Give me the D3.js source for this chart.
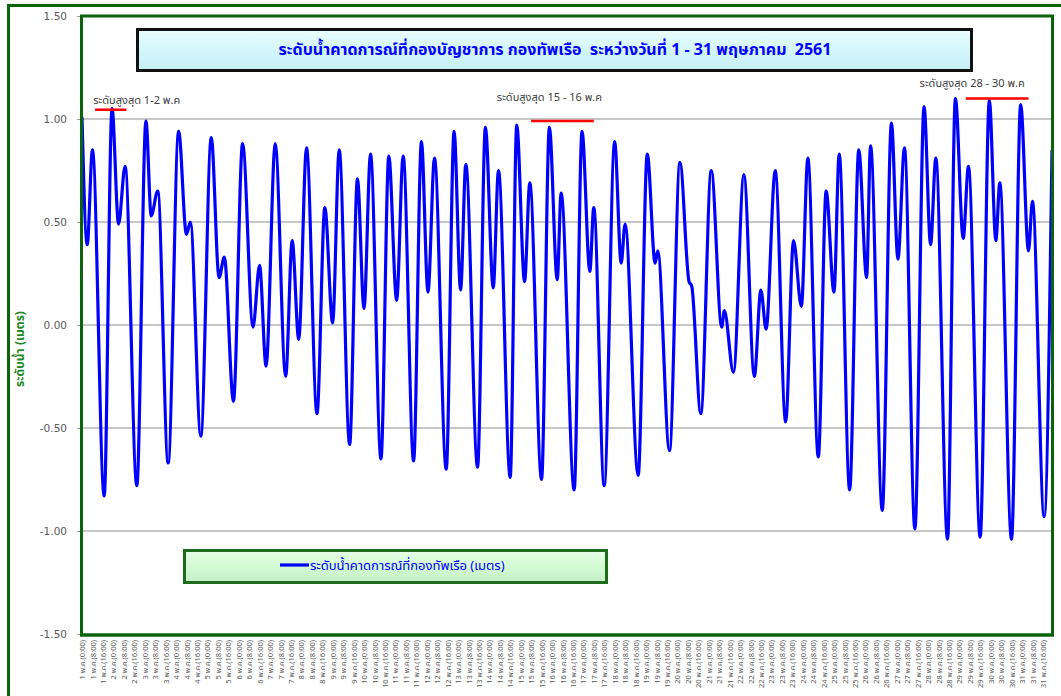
<!DOCTYPE html>
<html>
<head>
<meta charset="utf-8">
<script src="https://cdn.jsdelivr.net/npm/d3@7"></script>
<style>
  body { margin: 0; background: #fff; }
  text { font-family: Tahoma, "Noto Sans Thai", "DejaVu Sans", sans-serif; }
</style>
</head>
<body>
<div id="chart"></div>
<script>
// high / low water turning points, hours counted from 1 May 0:00
var tideHour = [0, 4, 8, 17, 23, 28, 33, 42, 49, 53, 58, 66, 74, 80, 83, 91, 99, 105, 109, 116,
  123, 131, 136, 141, 148, 156, 161, 166, 172, 180, 186, 192, 197, 205, 211, 216, 221,
  229, 235, 241, 246, 254, 260, 265, 270, 279, 285, 290, 294, 303, 309, 315, 319, 328,
  333, 339, 343, 352, 358, 364, 367, 377, 383, 389, 392, 400, 408, 413, 416, 426, 433,
  439, 441, 450, 458, 465, 467, 474, 482, 490, 492, 499, 507, 515, 520, 524, 531, 539,
  545, 551, 556, 564, 570, 576, 580, 588, 595, 601, 604, 613, 620, 625, 630, 638, 645,
  650, 654, 663, 669, 675, 679, 688, 695, 700, 703, 712, 719, 725, 728, 737, 743];
var tideLevel = [1.01, 0.39, 0.85, -0.83, 1.05, 0.49, 0.77, -0.78, 0.99, 0.53, 0.65, -0.67, 0.94, 0.44, 0.50, -0.54, 0.91, 0.23, 0.33, -0.37,
  0.88, -0.01, 0.29, -0.20, 0.88, -0.25, 0.41, -0.07, 0.86, -0.43, 0.57, 0.01, 0.85, -0.58, 0.71, 0.08, 0.83,
  -0.65, 0.82, 0.12, 0.82, -0.66, 0.89, 0.16, 0.81, -0.70, 0.94, 0.17, 0.78, -0.69, 0.96, 0.18, 0.75, -0.74,
  0.97, 0.21, 0.69, -0.75, 0.96, 0.22, 0.64, -0.80, 0.94, 0.26, 0.57, -0.78, 0.89, 0.30, 0.49, -0.73, 0.83,
  0.30, 0.36, -0.61, 0.79, 0.21, 0.19, -0.43, 0.75, -0.01, 0.07, -0.23, 0.73, -0.25, 0.17, -0.02, 0.75, -0.47,
  0.41, 0.09, 0.81, -0.64, 0.65, 0.16, 0.83, -0.80, 0.85, 0.23, 0.87, -0.90, 0.98, 0.32, 0.86, -0.99, 1.06,
  0.39, 0.81, -1.04, 1.10, 0.42, 0.77, -1.03, 1.09, 0.41, 0.69, -1.04, 1.07, 0.36, 0.60, -0.93, 0.85];

var days = d3.range(1, 32);
var labelTimes = ["0:00", "8:00", "16:00"];
var monthAbbr = "พ.ค.";
var yTicks = [-1.5, -1.0, -0.5, 0, 0.5, 1.0, 1.5];

var titleText = "ระดับน้ำคาดการณ์ที่กองบัญชาการ กองทัพเรือ  ระหว่างวันที่ 1 - 31 พฤษภาคม  2561";
var legendText = "ระดับน้ำคาดการณ์ที่กองทัพเรือ (เมตร)";
var yTitle = "ระดับน้ำ (เมตร)";

// highest-water notes: label, hour span, level of the red marker
var noteLabels = ["ระดับสูงสุด 1-2 พ.ค", "ระดับสูงสุด 15 - 16 พ.ค", "ระดับสูงสุด 28 - 30 พ.ค"];
var noteFrom = [10, 344, 677];
var noteTo = [34, 392, 725];
var noteLevel = [1.045, 0.99, 1.10];

var W = 1061, H = 696;
var plot = {left: 82, right: 1052, top: 16, bottom: 634};

var svg = d3.select("#chart").append("svg")
    .attr("width", W)
    .attr("height", H);

svg.append("rect").attr("width", W).attr("height", H).attr("fill", "#fff");

// outer chart frame (runs off the right / bottom edge)
svg.append("rect")
    .attr("x", 8.5).attr("y", 5.5)
    .attr("width", 1100).attr("height", 800)
    .attr("fill", "none")
    .attr("stroke", "#0b640b")
    .attr("stroke-width", 3);

var x = d3.scaleLinear().domain([0, 743]).range([plot.left, plot.right]);
var y = d3.scaleLinear().domain([-1.5, 1.5]).range([plot.bottom, plot.top]);

// gridlines
svg.append("g")
  .selectAll("line")
  .data(yTicks.filter(function(d) { return Math.abs(d) < 1.5; }))
  .enter()
  .append("line")
    .attr("x1", plot.left).attr("x2", plot.right)
    .attr("y1", function(d) { return y(d); })
    .attr("y2", function(d) { return y(d); })
    .attr("stroke", "#b4b4b4")
    .attr("stroke-width", 1.3);

// y axis
var yAxis = svg.append("g")
    .attr("transform", "translate(" + (plot.left - 1) + ",0)")
    .call(d3.axisLeft(y).tickValues(yTicks)
      .tickFormat(function(d) { return d.toFixed(2); })
      .tickSize(4).tickPadding(10));
yAxis.select(".domain").remove();
yAxis.selectAll("line").attr("stroke", "#999");
yAxis.selectAll("text")
    .attr("fill", "#595959")
    .style("font-size", "10.5px")
    .style("font-family", "Tahoma, 'DejaVu Sans', sans-serif");

// x axis, one label every 8 hours
var xTickVals = [], xTickText = [];
days.forEach(function(d, i) {
  labelTimes.forEach(function(t, j) {
    xTickVals.push(i * 24 + j * 8);
    xTickText.push(d + " " + monthAbbr + "(" + t + ")");
  });
});
var xAxis = svg.append("g")
    .attr("transform", "translate(0," + plot.bottom + ")")
    .call(d3.axisBottom(x).tickValues(xTickVals)
      .tickFormat(function(d, i) { return xTickText[i]; })
      .tickSize(0));
xAxis.select(".domain").remove();
xAxis.selectAll("text")
    .attr("transform", "rotate(-90)")
    .attr("text-anchor", "end")
    .attr("x", -6)
    .attr("y", 0)
    .attr("dy", "0.35em")
    .attr("fill", "#595959")
    .style("font-size", "7.5px");

// y axis title
svg.append("text")
    .attr("transform", "translate(24,349) rotate(-90)")
    .attr("text-anchor", "middle")
    .attr("fill", "#1f8a1f")
    .style("font-size", "12px")
    .style("font-weight", "bold")
    .text(yTitle);

// tide line
var line = d3.line()
    .x(function(d) { return x(d.h); })
    .y(function(d) { return y(d.v); })
    .curve(d3.curveMonotoneX);
var tide = tideHour.map(function(h, i) { return {h: h, v: tideLevel[i]}; });

svg.append("path")
    .datum(tide)
    .attr("fill", "none")
    .attr("stroke", "#0000ff")
    .attr("stroke-width", 3.2)
    .attr("stroke-linejoin", "round")
    .attr("d", line);

// plot area border
var border = svg.append("g").attr("stroke", "#0b640b").attr("fill", "none");
border.append("line").attr("x1", plot.left - 0.5).attr("x2", plot.left - 0.5)
    .attr("y1", plot.top - 1).attr("y2", plot.bottom + 2).attr("stroke-width", 3);
border.append("line").attr("x1", plot.left - 2).attr("x2", plot.right + 2)
    .attr("y1", plot.top).attr("y2", plot.top).attr("stroke-width", 3);
border.append("line").attr("x1", plot.right + 0.5).attr("x2", plot.right + 0.5)
    .attr("y1", plot.top - 1).attr("y2", plot.bottom + 2).attr("stroke-width", 3);
border.append("line").attr("x1", plot.left - 2).attr("x2", plot.right + 2)
    .attr("y1", plot.bottom + 1).attr("y2", plot.bottom + 1).attr("stroke-width", 3.5);

// highest-water notes
var noteDx = [26, -13, -25];
var noteDy = [-6, -20, -11];
noteLabels.forEach(function(lbl, i) {
  var x0 = x(noteFrom[i]), x1 = x(noteTo[i]), yy = y(noteLevel[i]);
  svg.append("line")
      .attr("x1", x0).attr("x2", x1)
      .attr("y1", yy).attr("y2", yy)
      .attr("stroke", "#ff0000")
      .attr("stroke-width", 2.5);
  svg.append("text")
      .attr("x", (x0 + x1) / 2 + noteDx[i])
      .attr("y", yy + noteDy[i])
      .attr("text-anchor", "middle")
      .attr("fill", "#404040")
      .style("font-size", "11px")
      .text(lbl);
});

// title box
var defs = svg.append("defs");
var g1 = defs.append("linearGradient").attr("id", "titleFill").attr("x1", 0).attr("y1", 0).attr("x2", 0).attr("y2", 1);
g1.append("stop").attr("offset", "0%").attr("stop-color", "#eafdff");
g1.append("stop").attr("offset", "50%").attr("stop-color", "#d3f7fc");
g1.append("stop").attr("offset", "100%").attr("stop-color", "#c4eef5");
var g2 = defs.append("linearGradient").attr("id", "legendFill").attr("x1", 0).attr("y1", 0).attr("x2", 0).attr("y2", 1);
g2.append("stop").attr("offset", "0%").attr("stop-color", "#e6fde6");
g2.append("stop").attr("offset", "50%").attr("stop-color", "#d4fad4");
g2.append("stop").attr("offset", "100%").attr("stop-color", "#c4efc4");

svg.append("rect")
    .attr("x", 137.5).attr("y", 29.5)
    .attr("width", 834).attr("height", 41)
    .attr("fill", "url(#titleFill)")
    .attr("stroke", "#111")
    .attr("stroke-width", 3);
svg.append("text")
    .attr("x", 555).attr("y", 55)
    .attr("text-anchor", "middle")
    .attr("fill", "#0000ff")
    .style("font-size", "16px")
    .style("font-weight", "bold")
    .style("white-space", "pre")
    .text(titleText);

// legend box
svg.append("rect")
    .attr("x", 184.5).attr("y", 550.5)
    .attr("width", 422).attr("height", 32)
    .attr("fill", "url(#legendFill)")
    .attr("stroke", "#1e6b1e")
    .attr("stroke-width", 3);
svg.append("line")
    .attr("x1", 280).attr("x2", 309)
    .attr("y1", 565).attr("y2", 565)
    .attr("stroke", "#0000ff")
    .attr("stroke-width", 3.2);
svg.append("text")
    .attr("x", 310).attr("y", 570)
    .attr("fill", "#0000ff")
    .style("font-size", "13px")
    .text(legendText);
</script>
</body>
</html>
